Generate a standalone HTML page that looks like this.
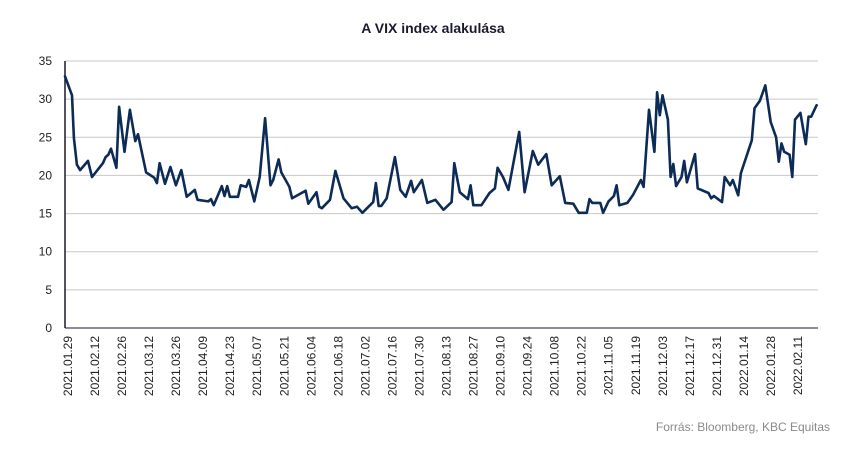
<!DOCTYPE html>
<html><head><meta charset="utf-8"><style>
html,body{margin:0;padding:0;background:#fff;}
body{width:850px;height:457px;overflow:hidden;font-family:"Liberation Sans",sans-serif;}
</style></head><body>
<svg id="chart" width="850" height="457" xmlns="http://www.w3.org/2000/svg">
<text x="433" y="33" text-anchor="middle" font-size="14" font-weight="bold" fill="#1a1a2e">A VIX index alakulása</text>
<g id="grid"></g>
<g id="yaxis"></g>
<g id="xaxis"></g>
<path id="line" fill="none" stroke="#0d2b57" stroke-width="2.6" stroke-linejoin="round" stroke-linecap="round"></path>
<text x="830" y="431" text-anchor="end" font-size="12" fill="#8a8a8a">Forrás: Bloomberg, KBC Equitas</text>
</svg>
<script>
const yTicks=[0,5,10,15,20,25,30,35];
const xLabels=["2021.01.29","2021.02.12","2021.02.26","2021.03.12","2021.03.26","2021.04.09","2021.04.23","2021.05.07","2021.05.21","2021.06.04","2021.06.18","2021.07.02","2021.07.16","2021.07.30","2021.08.13","2021.08.27","2021.09.10","2021.09.24","2021.10.08","2021.10.22","2021.11.05","2021.11.19","2021.12.03","2021.12.17","2021.12.31","2022.01.14","2022.01.28","2022.02.11"];
const days=[0,2.6,3.3,4.4,5.6,8.5,10,14,15,16,17,19,20,22,24,26,27,30,33,34,35,37,39,41,43,45,48,49,53,54,55,58,59,60,61,64,65,67,68,70,72,74,76,77,79,80,83,84,86,89,90,93,94,95,98,100,103,106,108,110,114,115,116,117,119,122,124,126,128,129,132,134,137,140,143,144,146,149,150,151,154,157,159,160,162,164,168,170,173,175,178,180,183,185,188,190,193,194,195,198,199,201,203,204,205,208,210,213,214,216,218,219,220,221,223,224,225,226,228,229,230,233,234,238,239,240,243,244,246,247,249,250,254,255,257,259,261,263,264,265,266,268,269,270,272,274,275,276,278];
const vix=[33.0,30.5,24.9,21.4,20.7,21.9,19.8,21.6,22.4,22.7,23.5,21.0,29.0,23.1,28.6,24.5,25.4,20.4,19.7,19.0,21.6,18.9,21.1,18.7,20.7,17.2,18.1,16.8,16.6,16.9,16.1,18.6,17.3,18.6,17.2,17.2,18.7,18.5,19.4,16.6,19.8,27.5,18.7,19.4,22.1,20.4,18.5,17.0,17.4,18.0,16.3,17.8,15.9,15.7,16.8,20.6,17.0,15.7,15.9,15.1,16.5,19.0,16.0,16.0,17.0,22.4,18.1,17.2,19.3,17.8,19.4,16.4,16.8,15.5,16.5,21.6,17.8,16.9,18.7,16.1,16.1,17.7,18.3,21.0,19.8,18.1,25.7,17.8,23.2,21.4,22.8,18.7,19.9,16.4,16.3,15.1,15.1,16.9,16.4,16.4,15.1,16.6,17.3,18.7,16.1,16.4,17.4,19.4,18.5,28.6,23.1,30.9,27.9,30.5,27.3,19.8,21.5,18.6,19.8,21.9,19.1,22.8,18.3,17.7,17.0,17.3,16.5,19.8,18.7,19.4,17.4,20.3,24.6,28.8,29.8,31.8,27.0,25.0,21.8,24.2,23.1,22.7,19.8,27.3,28.2,24.1,27.7,27.7,29.2];
const L=65,R=818,T=61,B=328,DMAX=278.5,YMAX=35;
const xs=d=>L+(d/DMAX)*(R-L);
const ys=v=>B-(v/YMAX)*(B-T);
const NS="http://www.w3.org/2000/svg";
const grid=document.getElementById('grid'),ya=document.getElementById('yaxis'),xa=document.getElementById('xaxis');
yTicks.forEach(t=>{
  const ln=document.createElementNS(NS,'line');
  
  
  ln.setAttribute('x1',L);ln.setAttribute('x2',R);ln.setAttribute('y1',ys(t));ln.setAttribute('y2',ys(t));
  ln.setAttribute('stroke',t===0?'#1a1a2e':'#c8c8c8');ln.setAttribute('stroke-width','1');
  grid.appendChild(ln);
  const tx=document.createElementNS(NS,'text');
  
  
  tx.setAttribute('x',52);tx.setAttribute('y',ys(t)+4);tx.setAttribute('text-anchor','end');
  tx.setAttribute('font-size','12');tx.setAttribute('fill','#222');tx.textContent=t;
  ya.appendChild(tx);
});
const ax=document.createElementNS(NS,'line');


ax.setAttribute('x1',L);ax.setAttribute('x2',L);ax.setAttribute('y1',T);ax.setAttribute('y2',B);
ax.setAttribute('stroke','#1a1a2e');ax.setAttribute('stroke-width','1.5');
ya.appendChild(ax);
xLabels.forEach((s,i)=>{
  const x=xs(1.1+10*i);
  const tx=document.createElementNS(NS,'text');
  
  
  tx.setAttribute('transform','translate('+(x+4)+',336) rotate(-90)');
  tx.setAttribute('text-anchor','end');tx.setAttribute('font-size','12');tx.setAttribute('fill','#222');
  tx.textContent=s;xa.appendChild(tx);
});
let d='';
const n=Math.min(days.length,vix.length);
for(let i=0;i<n;i++){d+=(i?'L':'M')+xs(days[i]).toFixed(1)+' '+ys(vix[i]).toFixed(1);}
document.getElementById('line').setAttribute('d',d);
</script>
</body></html>
